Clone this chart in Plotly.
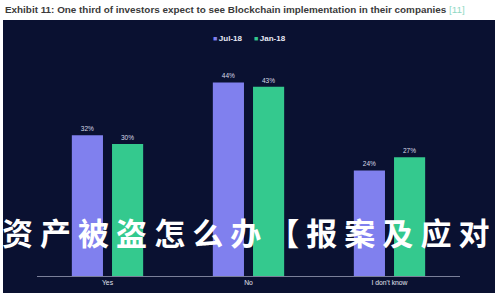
import plotly.graph_objects as go

categories = ["Yes", "No", "I don't know"]
jul18 = [32, 44, 24]
jan18 = [30, 43, 27]
series_names = ["Jul-18", "Jan-18"]
title_text = "Exhibit 11: One third of investors expect to see Blockchain implementation in their companies"
title_ref = "[11]"
overlay_text = "资 产 被 盗 怎 么 办 【 报 案 及 应 对"

W, H = 500, 300
ml, mr, mt, mb = 37, 40, 56, 24
pw = W - ml - mr
ph = H - mt - mb

navy = "#0a1131"
purple = "#8080ee"
green = "#34c98e"
colors = [purple, green]

fig = go.Figure()
for name, vals, col in [(series_names[0], jul18, purple), (series_names[1], jan18, green)]:
    fig.add_trace(go.Bar(
        x=categories, y=vals, name=name, marker=dict(color=col, line=dict(width=0)),
        text=[f"{v}%" for v in vals], textposition="outside",
        textfont=dict(size=6.5, color="#d8dbe8", family="Liberation Sans"),
        cliponaxis=False, showlegend=False,
    ))

legend_html = "\u2003\u2002".join(
    f"<span style='color:{c}; font-size:7px'>■</span>\u2009<b>{n}</b>" for n, c in zip(series_names, colors)
)

fig.update_layout(
    width=W, height=H,
    margin=dict(l=ml, r=mr, t=mt, b=mb, pad=0),
    paper_bgcolor="white",
    plot_bgcolor=navy,
    barmode="group", bargap=0.43, bargroupgap=0.225,
    xaxis=dict(showgrid=False, zeroline=False, showline=True, linecolor="#7a7f99", linewidth=1,
               ticks="", tickfont=dict(size=6.8, color="#e0e2ee", family="Liberation Sans")),
    yaxis=dict(range=[0, 50], visible=False, showgrid=False, zeroline=False),
    font=dict(family="Liberation Sans"),
    shapes=[dict(type="rect", xref="paper", yref="paper", layer="below",
                 x0=(3 - ml) / pw, x1=(495 - ml) / pw,
                 y0=(H - mb - 293) / ph, y1=(H - mb - 20) / ph,
                 fillcolor=navy, line=dict(width=0))],
    annotations=[
        dict(xref="paper", yref="paper", x=(3 - ml) / pw, y=(H - mb - 9) / ph, xanchor="left", yanchor="middle",
             showarrow=False,
             text=f"<b>{title_text}</b> <span style='color:#8fd9c4'>{title_ref}</span>",
             font=dict(size=9.9, color="#3a3a3a", family="Liberation Sans")),
        dict(xref="paper", yref="paper", x=(250 - ml) / pw, y=(H - mb - 38) / ph, xanchor="center", yanchor="middle",
             showarrow=False, text=legend_html,
             font=dict(size=8, color="#e8eaf5", family="Liberation Sans")),
        dict(xref="paper", yref="paper", x=(0 - ml) / pw, y=(H - mb - 231) / ph, xanchor="left", yanchor="middle",
             showarrow=False, text=f"<b>{overlay_text}</b>",
             font=dict(size=31, color="white", family="Noto Sans CJK SC")),
    ],
)

fig.write_html("out.html")
